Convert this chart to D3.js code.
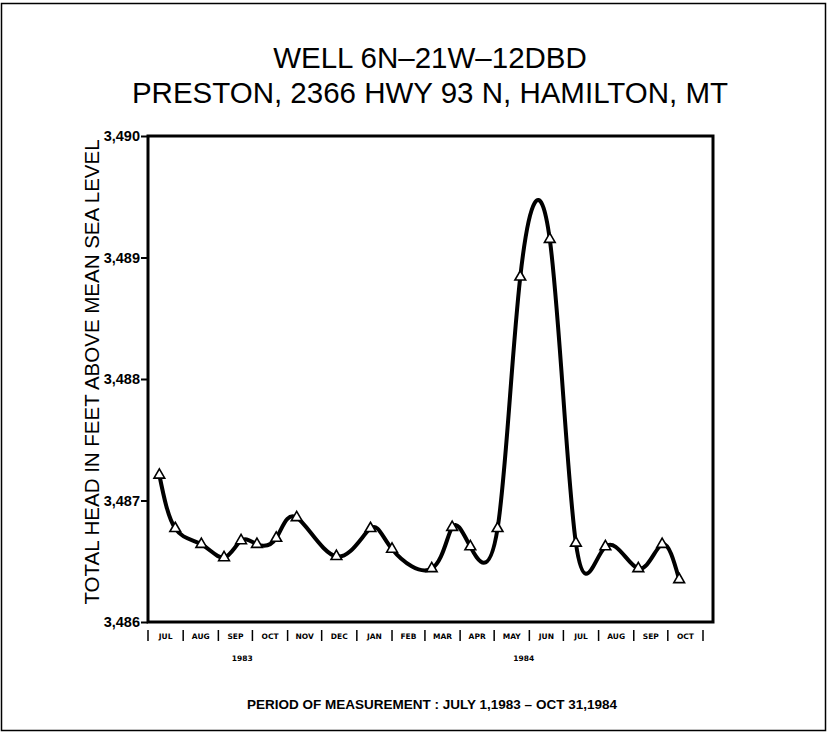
<!DOCTYPE html>
<html>
<head>
<meta charset="utf-8">
<script src="https://cdn.jsdelivr.net/npm/d3@7"></script>
<style>
body { margin:0; background:#fff; }
</style>
</head>
<body>
<div id="viz"></div>
<script>
var width = 828
var height = 734

// measurement dates and heads (feet above msl)
var dates = ["1983-07-11","1983-07-25","1983-08-17","1983-09-06","1983-09-21","1983-10-05","1983-10-22","1983-11-09",
	"1983-12-14","1984-01-13","1984-02-01","1984-03-07","1984-03-25","1984-04-10","1984-05-04","1984-05-24",
	"1984-06-19","1984-07-12","1984-08-07","1984-09-05","1984-09-26","1984-10-11"]
var heads = [3487.21, 3486.77, 3486.64, 3486.53, 3486.67, 3486.64, 3486.69, 3486.86,
	3486.54, 3486.77, 3486.60, 3486.44, 3486.78, 3486.62, 3486.77, 3488.84,
	3489.15, 3486.65, 3486.62, 3486.44, 3486.64, 3486.35]

var monthLabels = ["JUL","AUG","SEP","OCT","NOV","DEC","JAN","FEB","MAR","APR","MAY","JUN","JUL","AUG","SEP","OCT"]
var yearLabels = ["1983","1984"]
var yearLabelDates = ["1983-09-22","1984-05-27"]
var yTicks = [3486, 3487, 3488, 3489, 3490]

var parse = d3.timeParse("%Y-%m-%d")
var data = dates.map(function(d,i){ return {date: parse(d), head: heads[i]} })

var svg = d3.select("#viz")
	.append("svg")
	.attr("width",width)
	.attr("height",height)

// outer frame
svg.append("rect")
	.attr("x",1.5).attr("y",3.5)
	.attr("width",824).attr("height",727)
	.attr("fill","none")
	.attr("stroke","#000")
	.attr("stroke-width",1.5)

var plotLeft = 148, plotRight = 713, plotTop = 136, plotBottom = 622

var xScale = d3.scaleTime()
	.domain([parse("1983-07-01"), parse("1984-11-01")])
	.range([plotLeft, 703])

var yScale = d3.scaleLinear()
	.domain([3486, 3490])
	.range([plotBottom, plotTop])

// titles
svg.append("text")
	.text("WELL 6N\u201321W\u201312DBD")
	.attr("x",430).attr("y",68)
	.attr("text-anchor","middle")
	.attr("font-family","Liberation Sans, sans-serif")
	.attr("font-size",29.5)

svg.append("text")
	.text("PRESTON, 2366 HWY 93 N, HAMILTON, MT")
	.attr("x",430).attr("y",103)
	.attr("text-anchor","middle")
	.attr("font-family","Liberation Sans, sans-serif")
	.attr("font-size",29.5)

// y label
svg.append("text")
	.text("TOTAL HEAD IN FEET ABOVE MEAN SEA LEVEL")
	.attr("transform","translate(99,372) rotate(-90)")
	.attr("text-anchor","middle")
	.attr("font-family","Liberation Sans, sans-serif")
	.attr("font-size",20.5)

// plot box
svg.append("rect")
	.attr("x",plotLeft).attr("y",plotTop)
	.attr("width",plotRight-plotLeft).attr("height",plotBottom-plotTop)
	.attr("fill","none")
	.attr("stroke","#000")
	.attr("stroke-width",3)

var yAxis = d3.axisLeft(yScale)
	.tickValues(yTicks)
	.tickSize(7)
	.tickFormat(d3.format(",d"))

var yg = svg.append("g")
	.attr("transform","translate(" + plotLeft + ",0)")
	.call(yAxis)
yg.select(".domain").remove()
yg.selectAll(".tick line").attr("stroke-width",2)
yg.selectAll(".tick text")
	.attr("x",-8)
	.attr("font-family","Liberation Sans, sans-serif")
	.attr("font-weight","bold")
	.attr("font-size",14.5)

// month separators and labels
var monthStarts = d3.timeMonth.range(parse("1983-07-01"), parse("1984-11-02"))
svg.selectAll(".sep")
	.data(monthStarts)
	.enter()
	.append("line")
	.attr("x1",function(d){return xScale(d)})
	.attr("x2",function(d){return xScale(d)})
	.attr("y1",630).attr("y2",641)
	.attr("stroke","#000")
	.attr("stroke-width",1.5)

svg.selectAll(".month")
	.data(monthLabels)
	.enter()
	.append("text")
	.text(function(d){return d})
	.attr("x",function(d,i){return (xScale(monthStarts[i]) + xScale(monthStarts[i+1]))/2})
	.attr("y",639)
	.attr("text-anchor","middle")
	.attr("font-family","DejaVu Sans, sans-serif")
	.attr("font-weight","bold")
	.attr("font-size",7.5)

svg.selectAll(".year")
	.data(yearLabels)
	.enter()
	.append("text")
	.text(function(d){return d})
	.attr("x",function(d,i){return xScale(parse(yearLabelDates[i]))})
	.attr("y",661)
	.attr("text-anchor","middle")
	.attr("font-family","DejaVu Sans, sans-serif")
	.attr("font-weight","bold")
	.attr("font-size",7.5)

// hydrograph line
var valueLine = d3.line()
	.x(function(d){return xScale(d.date)})
	.y(function(d){return yScale(d.head)})
	.curve(d3.curveNatural)

svg.append("path")
	.datum(data)
	.attr("d",valueLine)
	.attr("fill","none")
	.attr("stroke","#000")
	.attr("stroke-width",4)
	.attr("stroke-linejoin","round")

var tri = d3.symbol().type(d3.symbolTriangle).size(50)
svg.selectAll(".pt")
	.data(data)
	.enter()
	.append("path")
	.attr("d",tri)
	.attr("transform",function(d){return "translate(" + xScale(d.date) + "," + yScale(d.head) + ")"})
	.attr("fill","#fff")
	.attr("stroke","#000")
	.attr("stroke-width",1.6)

// period note
svg.append("text")
	.text("PERIOD OF MEASUREMENT : JULY 1,1983 \u2013 OCT 31,1984")
	.attr("x",432).attr("y",709)
	.attr("text-anchor","middle")
	.attr("font-family","Liberation Sans, sans-serif")
	.attr("font-weight","bold")
	.attr("font-size",13.5)
</script>
</body>
</html>
